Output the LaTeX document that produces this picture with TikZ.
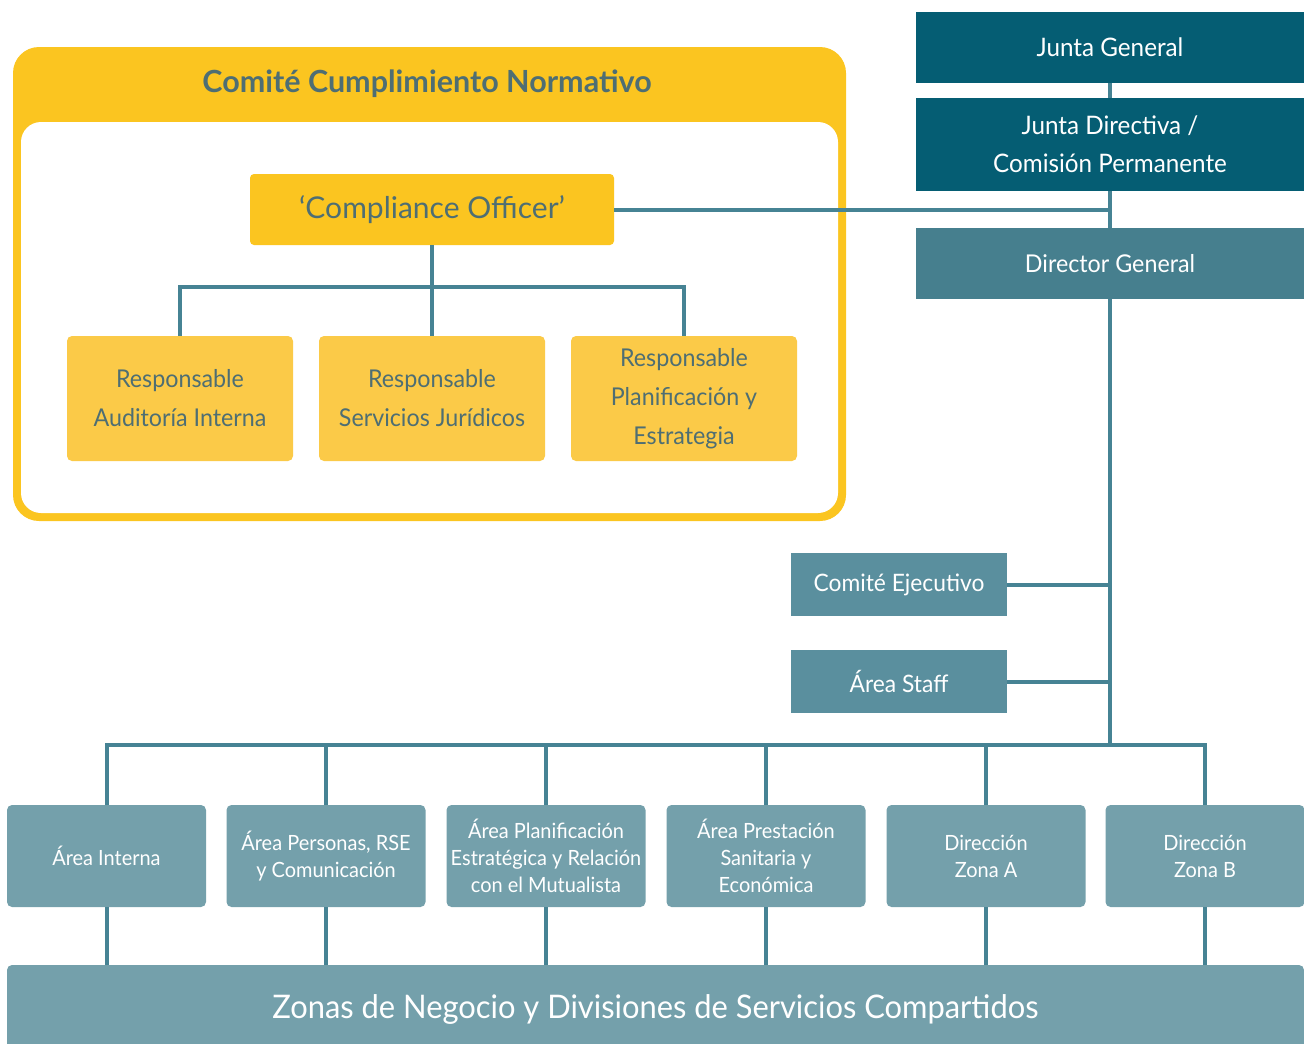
\documentclass[tikz,border=0pt]{standalone}
\usepackage{fontspec}
\setmainfont{Lato}[FakeStretch=0.95]
\newfontfamily\widefont{Lato}
\definecolor{yel}{HTML}{FBC520}
\definecolor{yelbox}{HTML}{FBCA48}
\definecolor{ytext}{HTML}{4E6E73}
\definecolor{dteal}{HTML}{055D73}
\definecolor{mteal}{HTML}{467F8E}
\definecolor{steal}{HTML}{5A8F9E}
\definecolor{lteal}{HTML}{74A0AB}
\definecolor{lnc}{HTML}{468394}
\tikzset{
  box/.style={inner sep=0pt, align=center, text=white, font=\fontsize{24.5}{38}\selectfont},
  dk/.style={box, fill=dteal, minimum width=388, minimum height=71, font=\fontsize{25.5}{38}\selectfont},
  dgbox/.style={box, fill=mteal, minimum width=388, minimum height=71},
  sidebox/.style={box, fill=steal, minimum width=216, minimum height=63, font=\fontsize{24}{30}\selectfont},
  lowbox/.style={box, fill=lteal, rounded corners=5, minimum width=199, minimum height=102, font=\fontsize{21}{27}\selectfont},
  ybox/.style={inner sep=0pt, align=center, text=ytext, fill=yelbox, rounded corners=5, minimum width=226, minimum height=125, font=\fontsize{24.5}{39}\selectfont},
  conn/.style={draw=lnc, line width=4pt},
}
\begin{document}
\begin{tikzpicture}[x=1pt,y=-1pt]
\useasboundingbox (0,0) rectangle (1304,1044);
\clip (0,0) rectangle (1304,1044);
% yellow frame
\fill[yel, rounded corners=26] (13,47) rectangle (846,521);
\fill[white, rounded corners=20] (21,122) rectangle (838,513);
\node[text=ytext, font=\widefont\bfseries\fontsize{30.5}{34}\selectfont] (title) at (427,84) {Comité Cumplimiento Normativo};
\node[inner sep=0pt, fill=yel, rounded corners=4, minimum width=364, minimum height=71, text=ytext, font=\widefont\fontsize{30}{34}\selectfont] (co) at (432,209.5) {‘Compliance Officer’};
\node[ybox] (r1) at (180,398.5) {Responsable\\Auditoría Interna};
\node[ybox] (r2) at (432,398.5) {Responsable\\Servicios Jurídicos};
\node[ybox] (r3) at (684,398.5) {Responsable\\Planificación y\\Estrategia};
% right column
\node[dk] (jg) at (1110,47.5) {Junta General};
\node[dk, minimum height=93] (jd) at (1110,144.5) {Junta Directiva /\\Comisión Permanente};
\node[dgbox] (dg) at (1110,263.5) {Director General};
\node[sidebox] (ce) at (899,584.5) {Comité Ejecutivo};
\node[sidebox] (st) at (899,681.5) {Área Staff};
% lower boxes
\node[lowbox] (l1) at (106.5,856) {Área Interna};
\node[lowbox] (l2) at (326,856) {Área Personas, RSE\\y Comunicación};
\node[lowbox] (l3) at (546,856) {Área Planificación\\Estratégica y Relación\\con el Mutualista};
\node[lowbox] (l4) at (766,856) {Área Prestación\\Sanitaria y\\Económica};
\node[lowbox] (l5) at (986,856) {Dirección\\Zona A};
\node[lowbox] (l6) at (1205,856) {Dirección\\Zona B};
\node[box, fill=lteal, rounded corners=5, minimum width=1297, minimum height=100] (zn) at (655.5,1015) {};
\node[text=white, font=\fontsize{32.5}{40}\selectfont, inner sep=0pt] (znt) at (655.5,1009) {Zonas de Negocio y Divisiones de Servicios Compartidos};
% connectors
\coordinate (bus) at (1110,745);
\draw[conn] (co.south) -- ++(0,42) coordinate (cb);
\draw[conn] (r1.north) |- (cb) -| (r3.north);
\draw[conn] (cb) -- (r2.north);
\draw[conn] (co.east) -- (co.east -| jd.south);
\draw[conn] (jg.south) -- (jd.north);
\draw[conn] (jd.south) -- (dg.north);
\draw[conn] (dg.south) -- (bus);
\draw[conn] (ce.east) -- (ce.east -| bus);
\draw[conn] (st.east) -- (st.east -| bus);
\draw[conn] (l1.north) |- (bus) -| (l6.north);
\draw[conn] (l2.north) -- (l2.north |- bus);
\draw[conn] (l3.north) -- (l3.north |- bus);
\draw[conn] (l4.north) -- (l4.north |- bus);
\draw[conn] (l5.north) -- (l5.north |- bus);
\foreach \n in {l1,l2,l3,l4,l5,l6}{\draw[conn] (\n.south) -- (\n.south |- zn.north);}
\end{tikzpicture}
\end{document}
